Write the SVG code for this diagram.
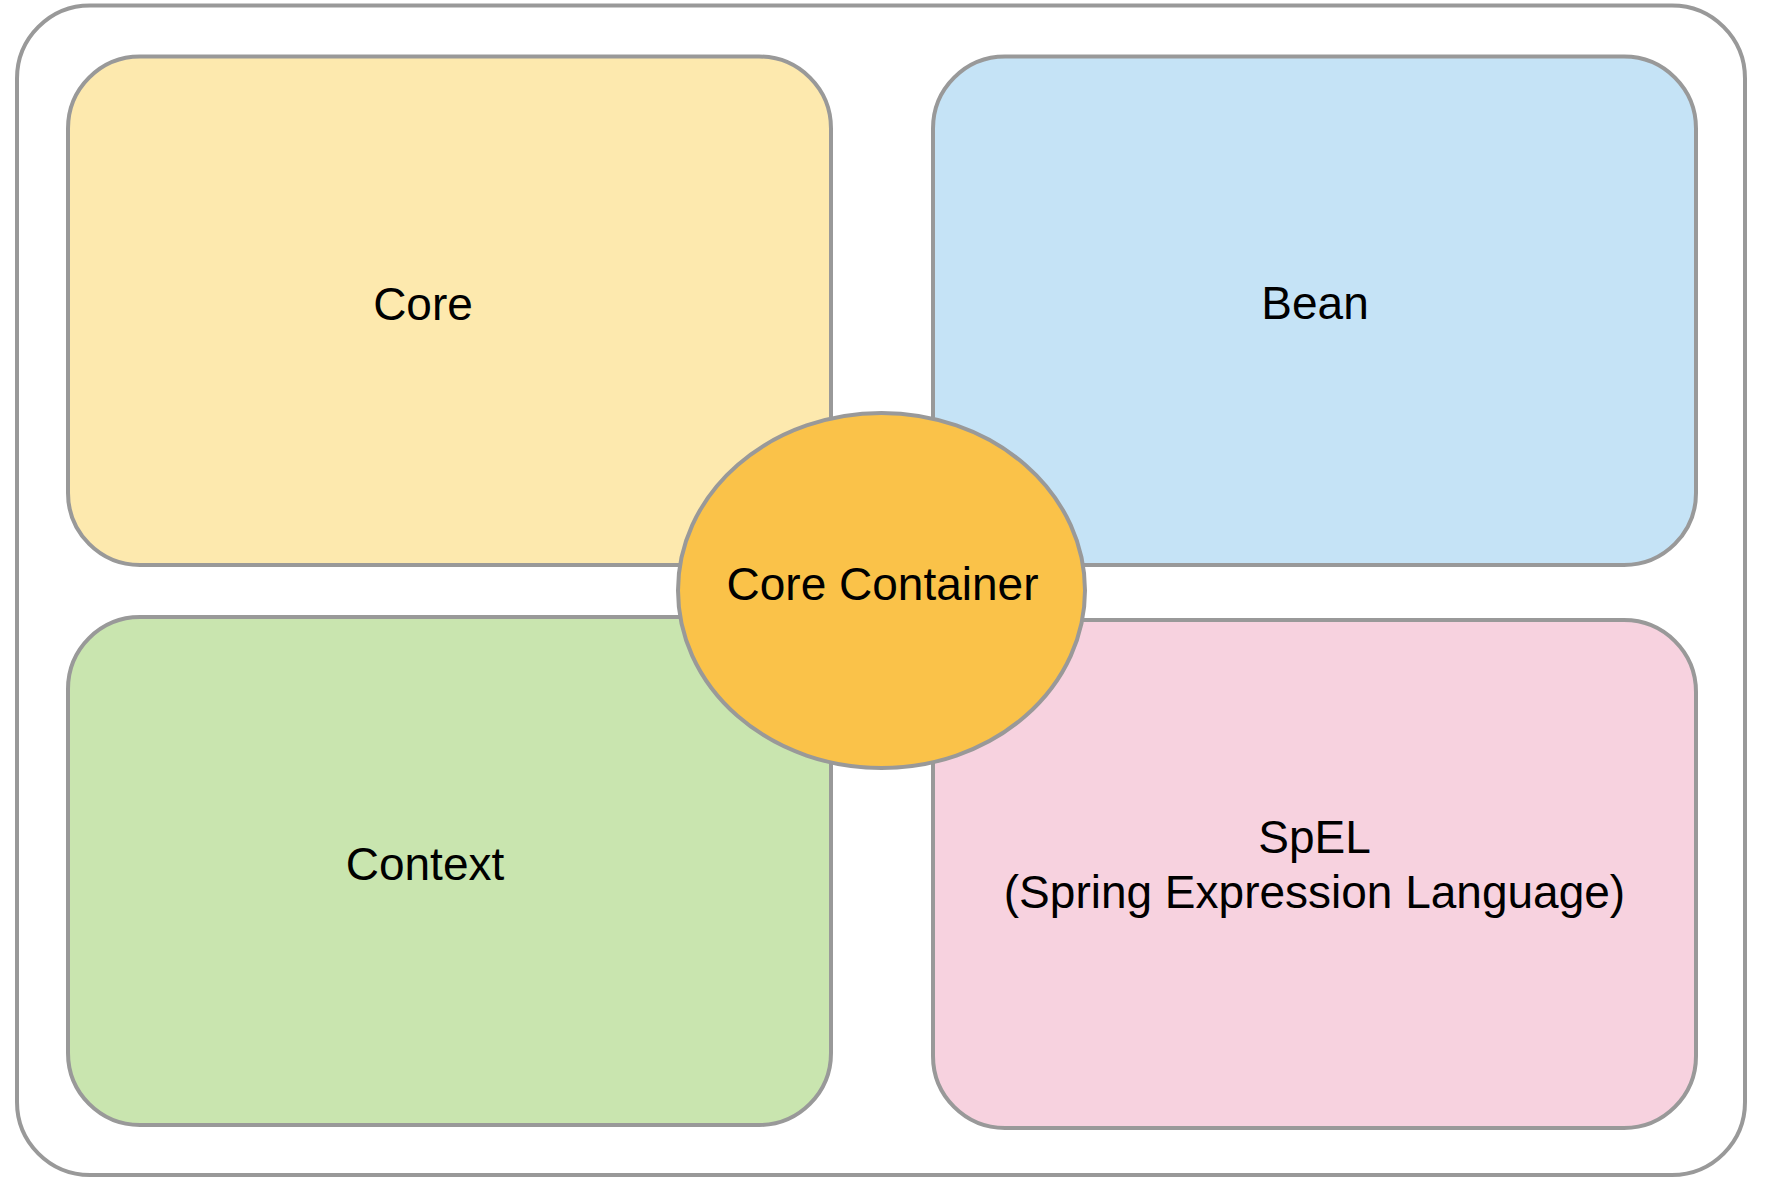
<svg xmlns="http://www.w3.org/2000/svg" width="1782" height="1192" viewBox="0 0 1782 1192">
<style>
.box{stroke:#999999;stroke-width:4}
.lbl{font-family:"Liberation Sans",Arial,sans-serif;font-size:46px;fill:#000;text-anchor:middle}
</style>
<rect width="1782" height="1192" fill="#ffffff"/>
<g id="container">
<rect class="box" x="17" y="5.5" width="1728" height="1169.5" rx="73" ry="73" fill="#ffffff"/>
</g>
<g id="core">
<rect class="box" x="68" y="56.5" width="763" height="508.5" rx="72" ry="72" fill="#FDE9AE"/>
<text class="lbl" x="423" y="320">Core</text>
</g>
<g id="bean">
<rect class="box" x="933" y="56.5" width="763" height="508.5" rx="72" ry="72" fill="#C5E3F6"/>
<text class="lbl" x="1315" y="319">Bean</text>
</g>
<g id="context">
<rect class="box" x="68" y="617" width="763" height="508" rx="72" ry="72" fill="#C9E5AF"/>
<text class="lbl" x="425" y="880">Context</text>
</g>
<g id="spel">
<rect class="box" x="933" y="620" width="763" height="508" rx="72" ry="72" fill="#F7D2DF"/>
<text class="lbl" x="1314.5" y="853">SpEL</text>
<text class="lbl" x="1314.5" y="908">(Spring Expression Language)</text>
</g>
<g id="connectors"></g>
<g id="core-container">
<ellipse class="box" cx="881.5" cy="590.5" rx="203.5" ry="177.5" fill="#FAC249"/>
<text class="lbl" x="882.5" y="600">Core Container</text>
</g>
</svg>
